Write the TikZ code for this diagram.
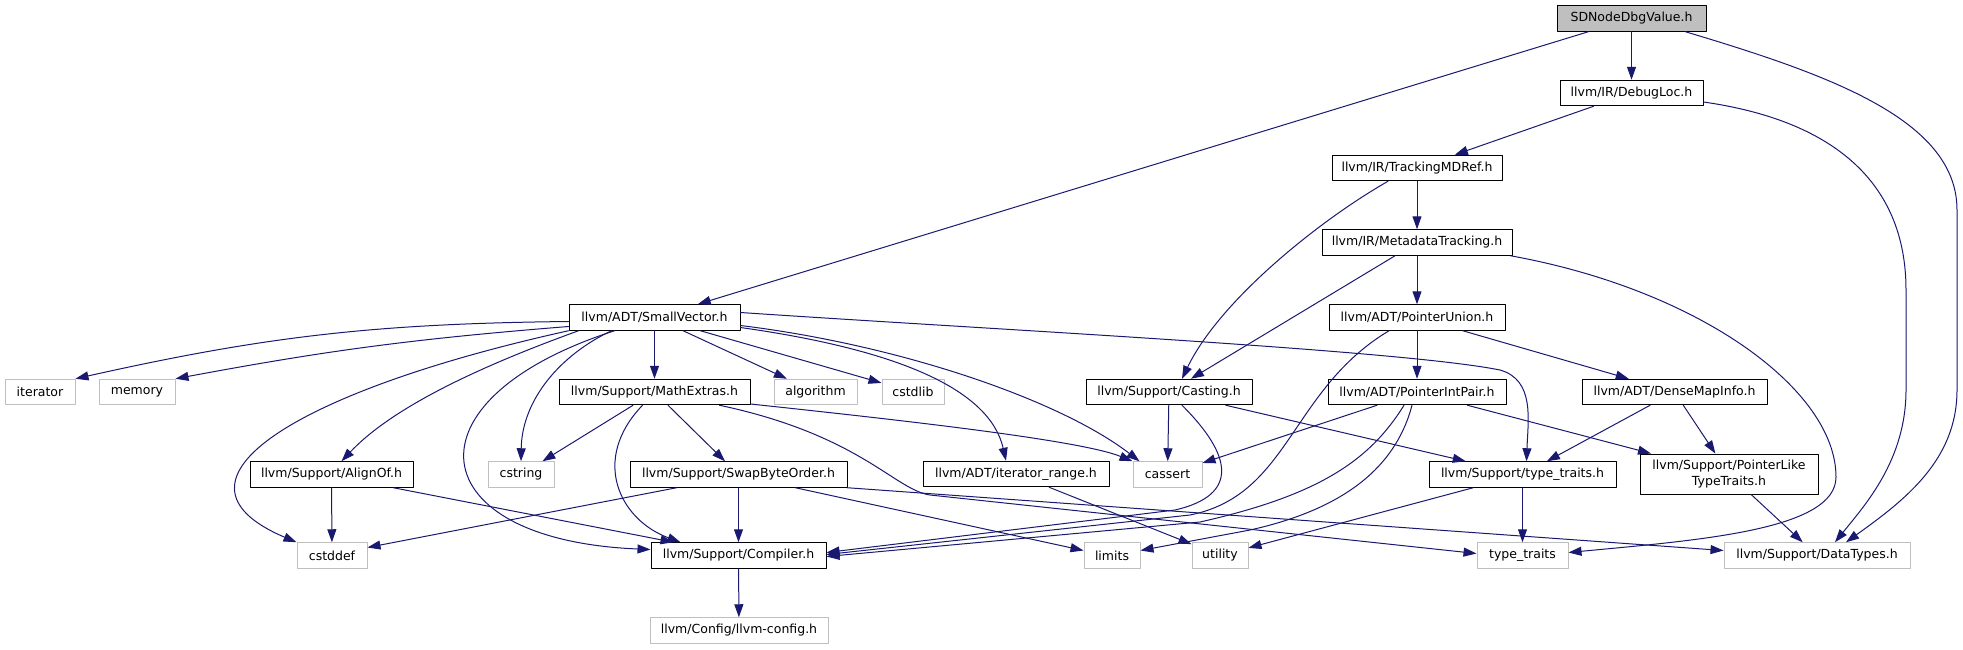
\documentclass[tikz,border=0pt]{standalone}
\usepackage{fontspec}
\setmainfont{DejaVu Sans}
\usetikzlibrary{arrows.meta}
\definecolor{edgeblue}{HTML}{191970}
\definecolor{extgrey}{HTML}{BFBFBF}

\begin{document}
\begin{tikzpicture}[x=1pt, y=1pt, line cap=round, line join=round,
    hdr/.style={draw=black, line width=1pt, inner sep=0pt, minimum height=25.5pt,
                align=center, font=\fontsize{12.5}{15.5}\selectfont},
    ext/.style={hdr, draw=extgrey},
    dep/.style={draw=edgeblue, line width=1pt, -{Triangle[length=13pt,width=9pt]}}]

      \useasboundingbox (0,0) rectangle (1963,-649);

      % Rang 0 - fichier courant
      \node[hdr, fill=extgrey, minimum width=149pt] (sdn) at (1631.5,-18.5) {SDNodeDbgValue.h};

      % Rang 1-3
      \node[hdr, minimum width=143pt] (dloc) at (1631.5,-93) {llvm/IR/DebugLoc.h};
      \node[hdr, minimum width=170pt] (tmd) at (1417,-168) {llvm/IR/TrackingMDRef.h};
      \node[hdr, minimum width=190pt] (mdt) at (1417,-242.5) {llvm/IR/MetadataTracking.h};

      % Rang 4
      \node[hdr, minimum width=171pt] (svec) at (654.5,-317.5) {llvm/ADT/SmallVector.h};
      \node[hdr, minimum width=176pt] (punion) at (1417,-317.5) {llvm/ADT/PointerUnion.h};

      % Rang 5
      \node[ext, minimum width=70pt] (iter) at (40,-392) {iterator};
      \node[ext, minimum width=76pt] (mem) at (137,-392) {memory};
      \node[hdr, minimum width=191pt] (mext) at (654.5,-392) {llvm/Support/MathExtras.h};
      \node[ext, minimum width=83pt] (algo) at (815.5,-392) {algorithm};
      \node[ext, minimum width=62pt] (cstdlib) at (913,-392) {cstdlib};
      \node[hdr, minimum width=166pt] (cast) at (1169,-392) {llvm/Support/Casting.h};
      \node[hdr, minimum width=178pt] (pip) at (1417,-392) {llvm/ADT/PointerIntPair.h};
      \node[hdr, minimum width=185pt] (dmi) at (1674.5,-392) {llvm/ADT/DenseMapInfo.h};

      % Rang 6
      \node[hdr, minimum width=163pt] (align) at (331.5,-474.5) {llvm/Support/AlignOf.h};
      \node[ext, minimum width=66pt] (cstring) at (521,-474.5) {cstring};
      \node[hdr, minimum width=217pt] (swap) at (738.5,-474.5) {llvm/Support/SwapByteOrder.h};
      \node[hdr, minimum width=186pt] (itrange) at (1016,-474) {llvm/ADT/iterator\_range.h};
      \node[ext, minimum width=69pt] (cassert) at (1167.5,-474.5) {cassert};
      \node[hdr, minimum width=187pt] (tth) at (1522.5,-474.5) {llvm/Support/type\_traits.h};
      \node[hdr, minimum width=178pt, minimum height=40pt] (pltt) at (1729,-474) {llvm/Support/PointerLike\\TypeTraits.h};

      % Rang 7
      \node[ext, minimum width=70pt] (cstddef) at (332,-555.5) {cstddef};
      \node[hdr, minimum width=175pt] (comp) at (738.5,-555.5) {llvm/Support/Compiler.h};
      \node[ext, minimum width=56pt] (limits) at (1112,-555.5) {limits};
      \node[ext, minimum width=56pt] (utility) at (1220,-555.5) {utility};
      \node[ext, minimum width=91pt] (tt) at (1522.5,-555.5) {type\_traits};
      \node[ext, minimum width=186pt] (dtypes) at (1817,-555.5) {llvm/Support/DataTypes.h};

      % Rang 8
      \node[ext, minimum width=178pt] (lcfg) at (739,-630.5) {llvm/Config/llvm-config.h};

      % Dependances du haut
      \draw[dep] (sdn) -- (svec);
      \draw[dep] (sdn) -- (dloc);
      \draw[dep] ([xshift=-21pt]sdn.south east) .. controls (1830,-75) and (1957,-120) .. (1957,-210)
                 -- (1957,-390) .. controls (1957,-460) and (1905,-500) .. ([xshift=29pt]dtypes.north);
      \draw[dep] (dloc) -- (tmd);
      \draw[dep] ([yshift=-9pt]dloc.east) .. controls (1830,-120) and (1906,-180) .. (1906,-290)
                 -- (1906,-390) .. controls (1906,-460) and (1865,-505) .. ([xshift=18pt]dtypes.north);
      \draw[dep] (tmd) -- (mdt);
      \draw[dep] ([xshift=-29pt]tmd.south) .. controls (1320,-220) and (1220,-300) .. ([xshift=13pt]cast.north);
      \draw[dep] (mdt) -- (punion);
      \draw[dep] (mdt) -- (cast);
      \draw[dep] ([xshift=-2pt]mdt.south east) .. controls (1700,-290) and (1836,-390) .. (1836,-477)
                 .. controls (1836,-530) and (1700,-540) .. ([yshift=3pt]tt.east);

      % SmallVector
      \draw[dep] ([yshift=-4pt]svec.west) to[bend right=6] (iter.north east);
      \draw[dep] ([yshift=-9pt]svec.west) to[bend right=3] (mem.north east);
      \draw[dep] (svec.south west) .. controls (300,-390) and (150,-480) .. (cstddef.north west);
      \draw[dep] ([xshift=10pt]svec.south west) .. controls (470,-370) and (390,-410) .. ([xshift=10pt]align.north);
      \draw[dep] ([xshift=-40pt]svec.south) .. controls (400,-400) and (420,-540) .. ([yshift=6pt]comp.west);
      \draw[dep] ([xshift=-43pt]svec.south) .. controls (560,-355) and (522,-400) .. (cstring.north);
      \draw[dep] (svec) -- (mext);
      \draw[dep] (svec) -- (algo);
      \draw[dep] (svec) -- (cstdlib);
      \draw[dep] ([yshift=-10pt]svec.east) .. controls (900,-350) and (990,-390) .. ([xshift=-10pt]itrange.north);
      \draw[dep] ([yshift=-8pt]svec.east) .. controls (900,-345) and (1060,-400) .. ([xshift=-28pt]cassert.north);
      \draw[dep] ([yshift=5pt]svec.east) .. controls (1000,-330) and (1400,-350) .. (1500,-370)
                 .. controls (1535,-380) and (1528,-420) .. ([xshift=4pt]tth.north);

      % PointerUnion, Casting, PointerIntPair, DenseMapInfo
      \draw[dep] (punion) -- (pip);
      \draw[dep] (punion) -- (dmi);
      \draw[dep] ([xshift=-28pt]punion.south) .. controls (1290,-390) and (1290,-495) .. (1190,-515)
                 -- ([yshift=1pt]comp.east);
      \draw[dep] (cast) -- (cassert);
      \draw[dep] (cast) -- (tth);
      \draw[dep] ([xshift=13pt]cast.south) .. controls (1232,-455) and (1240,-495) .. (1175,-510)
                 -- ([yshift=3pt]comp.east);
      \draw[dep] (pip) -- (cassert);
      \draw[dep] (pip) -- (pltt);
      \draw[dep] ([xshift=-13pt]pip.south) .. controls (1370,-460) and (1320,-495) .. (1200,-522)
                 -- ([yshift=-1pt]comp.east);
      \draw[dep] ([xshift=-5pt]pip.south) .. controls (1395,-470) and (1340,-510) .. (1250,-530)
                 -- ([yshift=5pt]limits.east);
      \draw[dep] (dmi) -- (tth);
      \draw[dep] (dmi) -- (pltt);

      % MathExtras, SwapByteOrder, AlignOf
      \draw[dep] (mext) -- (cstring);
      \draw[dep] (mext) -- (swap);
      \draw[dep] ([xshift=-12pt]mext.south) .. controls (590,-460) and (620,-520) .. ([xshift=-58pt]comp.north);
      \draw[dep] ([yshift=-12pt]mext.east) .. controls (900,-420) and (1080,-440) .. (cassert.north west);
      \draw[dep] ([xshift=65pt]mext.south) .. controls (860,-435) and (895,-490) .. (930,-495)
                 -- ([yshift=2pt]tt.west);
      \draw[dep] ([xshift=-62pt]swap.south) -- ([yshift=8pt]cstddef.east);
      \draw[dep] (swap) -- (comp);
      \draw[dep] ([xshift=57pt]swap.south) -- ([yshift=5pt]limits.west);
      \draw[dep] (swap.south east) -- ([yshift=5pt]dtypes.west);
      \draw[dep] (align) -- (cstddef);
      \draw[dep] ([xshift=62pt]align.south) -- ([xshift=-65pt]comp.north);

      % Bas du graphe
      \draw[dep] (itrange) -- (utility);
      \draw[dep] (tth) -- (tt);
      \draw[dep] (tth) -- (utility);
      \draw[dep] (pltt) -- (dtypes);
      \draw[dep] (comp) -- (lcfg);
    \end{tikzpicture}
\end{document}
